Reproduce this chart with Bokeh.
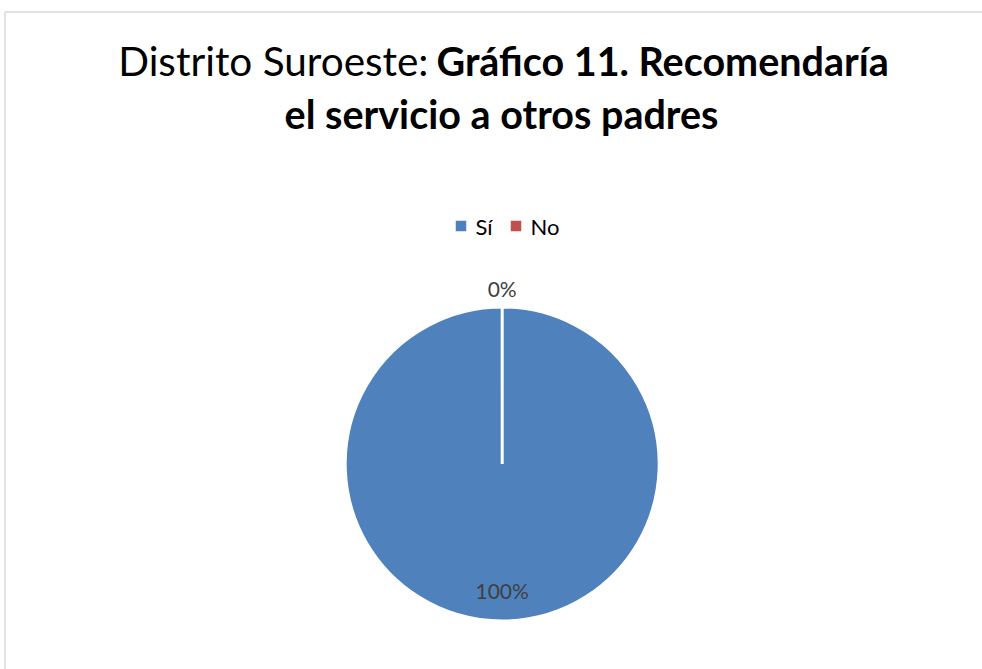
import math
from bokeh.plotting import figure
from bokeh.models import Range1d, ColumnDataSource
from bokeh.core.properties import value
from bokeh.embed import file_html
from bokeh.resources import INLINE

# ---- data ----
categories = ["Sí", "No"]
percent = [100, 0]
colors = ["#4F81BD", "#C0504D"]
title_normal = "Distrito Suroeste:"
title_bold_1 = "Gráfico 11. Recomendaría"
title_bold_2 = "el servicio a otros padres"

W, H = 982, 669


def sy(y):
    # page (screen) y -> data y
    return H - y


p = figure(width=W, height=H, output_backend="svg", toolbar_location=None,
           x_range=Range1d(0, W), y_range=Range1d(0, H), min_border=0)
p.axis.visible = False
p.grid.visible = False
p.outline_line_color = None
p.background_fill_color = "white"
p.border_fill_color = "white"

FONT = value("Lato")

# chart border (top and left visible in the reference)
p.line(x=[4.5, 4.5, 982], y=[sy(669), sy(11.5), sy(11.5)],
       line_color="#d9d9d9", line_width=1.5)

# ---- title ----
p.text(x=[428], y=[sy(59.5)], text=[title_normal], text_font=FONT,
       text_font_size="40.5px", text_align="right", text_baseline="middle",
       text_color="#000000")
p.text(x=[436], y=[sy(59.5)], text=[title_bold_1], text_font=FONT,
       text_font_size="39.5px", text_font_style="bold", text_align="left",
       text_baseline="middle", text_color="#000000")
p.text(x=[501], y=[sy(113)], text=[title_bold_2], text_font=FONT,
       text_font_size="39.5px", text_font_style="bold", text_align="center",
       text_baseline="middle", text_color="#000000")

# ---- pie ----
cx, cy, R = 501.7, sy(463.5), 157
total = sum(percent)
starts, ends, mids = [], [], []
a = math.pi / 2
for v in percent:
    span = 2 * math.pi * v / total
    starts.append(a)
    ends.append(a - span)
    mids.append(a - span / 2)
    a -= span

# only non-empty slices are filled; a full 2*pi arc collapses in SVG,
# so a whole-circle slice is kept a hair short of a full turn
keep = [i for i, v in enumerate(percent) if v > 0]
src = ColumnDataSource(dict(
    start=[starts[i] for i in keep],
    end=[max(ends[i], starts[i] - 2 * math.pi + 1e-4) for i in keep],
    color=[colors[i] for i in keep]))
p.wedge(x=cx, y=cy, radius=R, start_angle="start", end_angle="end",
        direction="clock", fill_color="color", line_color="white",
        line_width=3, source=src)

# data labels
lx, ly, lt = [], [], []
for v, m in zip(percent, mids):
    r = 0.806 * R if v / total > 0.05 else R + 18.5
    lx.append(cx + r * math.cos(m))
    ly.append(cy + r * math.sin(m))
    lt.append(f"{v}%")
p.text(x=lx, y=ly, text=lt, text_font=FONT, text_font_size="21px",
       text_align="center", text_baseline="middle", text_color="#404040")

# ---- legend ----
leg_x = [460.5, 515.5]
leg_y = sy(225.5)
p.rect(x=leg_x, y=[leg_y] * 2, width=10.5, height=10.5, width_units="screen",
       height_units="screen", fill_color=colors, line_color=None)
p.text(x=[x + 14.5 for x in leg_x], y=[leg_y] * 2, text=categories,
       text_font=FONT, text_font_size="22px", text_align="left",
       text_baseline="middle", text_color="#000000")

open("out.html", "w").write(file_html(p, INLINE))
